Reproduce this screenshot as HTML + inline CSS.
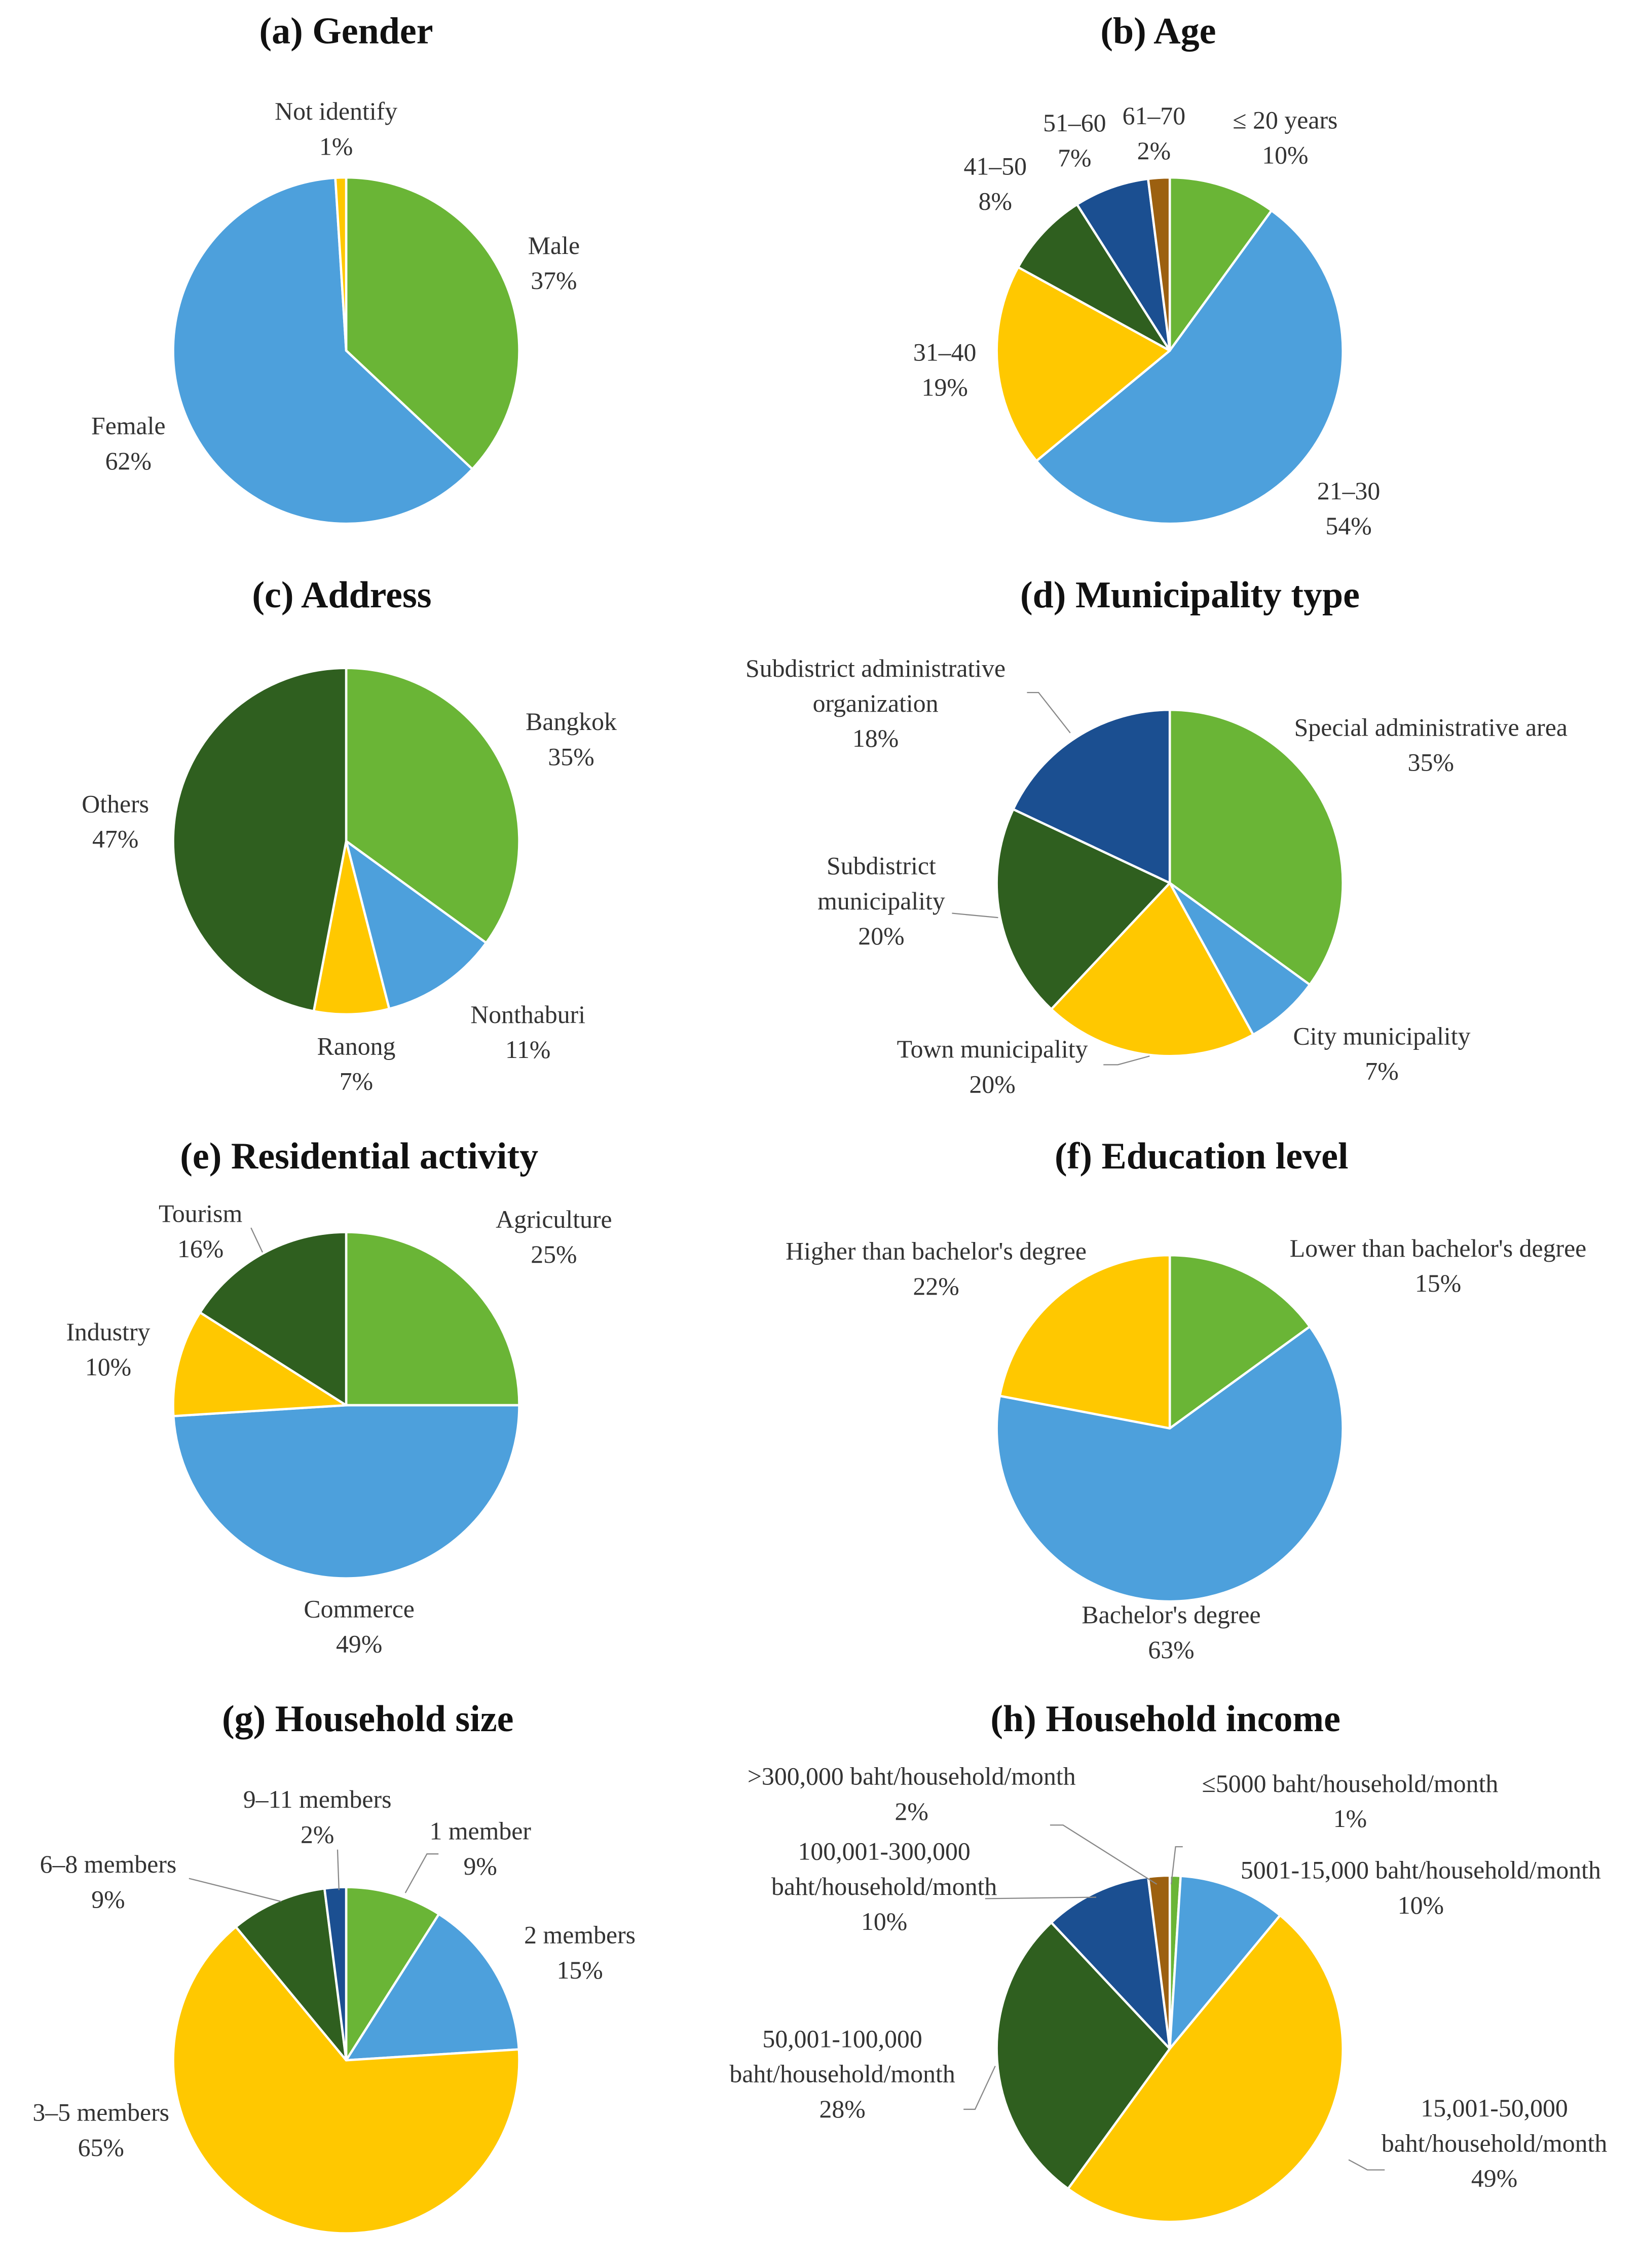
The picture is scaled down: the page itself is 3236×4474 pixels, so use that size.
<!DOCTYPE html>
<html><head><meta charset="utf-8">
<style>
html,body{margin:0;padding:0;background:#fff;}
svg{display:block;}
text{font-family:"Liberation Serif",serif;fill:#333;}
.t{font-weight:bold;fill:#111;font-size:26px;}
.l{font-size:17.5px;}
</style></head>
<body>
<svg id="fig" width="3236" height="4474" viewBox="0 0 1137 1572" preserveAspectRatio="none" xmlns="http://www.w3.org/2000/svg"></svg>
<script>
// ----- data -----
const genderCats = ["Male","Female","Not identify"];
const genderVals = [37,62,1];
const ageCats = ["≤ 20 years","21–30","31–40","41–50","51–60","61–70"];
const ageVals = [10,54,19,8,7,2];
const addressCats = ["Bangkok","Nonthaburi","Ranong","Others"];
const addressVals = [35,11,7,47];
const muniCats = ["Special administrative area","City municipality","Town municipality","Subdistrict municipality","Subdistrict administrative organization"];
const muniVals = [35,7,20,20,18];
const resCats = ["Agriculture","Commerce","Industry","Tourism"];
const resVals = [25,49,10,16];
const eduCats = ["Lower than bachelor's degree","Bachelor's degree","Higher than bachelor's degree"];
const eduVals = [15,63,22];
const hhCats = ["1 member","2 members","3–5 members","6–8 members","9–11 members"];
const hhVals = [9,15,65,9,2];
const incCats = ["≤5000 baht/household/month","5001-15,000 baht/household/month","15,001-50,000 baht/household/month","50,001-100,000 baht/household/month","100,001-300,000 baht/household/month",">300,000 baht/household/month"];
const incVals = [1,10,49,28,10,2];

const G="#6ab536",B="#4da0dc",Y="#ffc800",DG="#2f5f1f",N="#1b4f91",BR="#9c6010";
const svg=document.getElementById('fig');
const NS="http://www.w3.org/2000/svg";
function el(tag,attrs){const e=document.createElementNS(NS,tag);for(const k in attrs)e.setAttribute(k,attrs[k]);svg.appendChild(e);return e;}

function pie(id,cx,cy,r,vals,cats,colors){
  const tot=vals.reduce((a,b)=>a+b,0);
  let a0=0;
  vals.forEach((v,i)=>{
    const a1=a0+v/tot*2*Math.PI;
    const x0=cx+r*Math.sin(a0),y0=cy-r*Math.cos(a0);
    const x1=cx+r*Math.sin(a1),y1=cy-r*Math.cos(a1);
    const large=(a1-a0)>Math.PI?1:0;
    const p=el('path',{d:`M${cx},${cy} L${x0},${y0} A${r},${r} 0 ${large} 1 ${x1},${y1} Z`,fill:colors[i],stroke:"#fff","stroke-width":1.6,"stroke-linejoin":"round"});
    
    
    a0=a1;
  });
}
function title(txt,x,y,name){
  const t=el('text',{x:x,y:y,class:'t','text-anchor':'middle','dominant-baseline':'middle'});
  t.textContent=txt;
  
  
}
function label(lines,x,y,name){
  lines.forEach((s,i)=>{
    const t=el('text',{x:x,y:y+i*24.3,class:'l','text-anchor':'middle','dominant-baseline':'middle'});
    t.textContent=s;
    
    
  });
}
function lead(pts,name){
  const l=el('polyline',{points:pts,fill:'none',stroke:'#888','stroke-width':0.8});
  
  
}
const R=120;
// (a)
title("(a) Gender",240,24,'title-gender');
pie('gender',240,243,R,genderVals,genderCats,[G,B,Y]);
label(["Not identify",genderVals[2]+"%"],233,79,'label-not-identify');
label(["Male",genderVals[0]+"%"],384,172,'label-male');
label(["Female",genderVals[1]+"%"],89,297,'label-female');
// (b)
title("(b) Age",803,24,'title-age');
pie('age',811,243,R,ageVals,ageCats,[G,B,Y,DG,N,BR]);
label(["≤ 20 years",ageVals[0]+"%"],891,85,'label-age-20');
label(["61–70",ageVals[5]+"%"],800,82,'label-age-61-70');
label(["51–60",ageVals[4]+"%"],745,87,'label-age-51-60');
label(["41–50",ageVals[3]+"%"],690,117,'label-age-41-50');
label(["31–40",ageVals[2]+"%"],655,246,'label-age-31-40');
label(["21–30",ageVals[1]+"%"],935,342,'label-age-21-30');
// (c)
title("(c) Address",237,415,'title-address');
pie('address',240,583,R,addressVals,addressCats,[G,B,Y,DG]);
label(["Bangkok",addressVals[0]+"%"],396,502,'label-bangkok');
label(["Others",addressVals[3]+"%"],80,559,'label-others');
label(["Nonthaburi",addressVals[1]+"%"],366,705,'label-nonthaburi');
label(["Ranong",addressVals[2]+"%"],247,727,'label-ranong');
// (d)
title("(d) Municipality type",825,415,'title-municipality');
pie('municipality',811,612,R,muniVals,muniCats,[G,B,Y,DG,N]);
label(["Subdistrict administrative","organization",muniVals[4]+"%"],607,465,'label-sao');
lead("712,480 720,480 742,508",'leader-sao');
label(["Special administrative area",muniVals[0]+"%"],992,506,'label-special');
label(["Subdistrict","municipality",muniVals[3]+"%"],611,602,'label-subdistrict-municipality');
lead("660,633 692,636",'leader-subdistrict');
label(["City municipality",muniVals[1]+"%"],958,720,'label-city');
label(["Town municipality",muniVals[2]+"%"],688,729,'label-town');
lead("765,738 775,738 797,732",'leader-town');
// (e)
title("(e) Residential activity",249,804,'title-residential');
pie('residential',240,974,R,resVals,resCats,[G,B,Y,DG]);
label(["Agriculture",resVals[0]+"%"],384,847,'label-agriculture');
label(["Tourism",resVals[3]+"%"],139,843,'label-tourism');
lead("174,851 182,868",'leader-tourism');
label(["Industry",resVals[2]+"%"],75,925,'label-industry');
label(["Commerce",resVals[1]+"%"],249,1117,'label-commerce');
// (f)
title("(f) Education level",833,804,'title-education');
pie('education',811,990,R,eduVals,eduCats,[G,B,Y]);
label(["Lower than bachelor's degree",eduVals[0]+"%"],997,867,'label-lower');
label(["Higher than bachelor's degree",eduVals[2]+"%"],649,869,'label-higher');
label(["Bachelor's degree",eduVals[1]+"%"],812,1121,'label-bachelor');
// (g)
title("(g) Household size",255,1194,'title-household-size');
pie('household',240,1428,R,hhVals,hhCats,[G,B,Y,DG,N]);
label(["9–11 members",hhVals[4]+"%"],220,1249,'label-9-11');
lead("234,1282 235,1310",'leader-9-11');
label(["1 member",hhVals[0]+"%"],333,1271,'label-1-member');
lead("304,1285 296,1285 281,1312",'leader-1-member');
label(["6–8 members",hhVals[3]+"%"],75,1294,'label-6-8');
lead("131,1302 195,1318",'leader-6-8');
label(["2 members",hhVals[1]+"%"],402,1343,'label-2-members');
label(["3–5 members",hhVals[2]+"%"],70,1466,'label-3-5');
// (h)
title("(h) Household income",808,1194,'title-household-income');
pie('income',811,1420,R,incVals,incCats,[G,B,Y,DG,N,BR]);
label([">300,000 baht/household/month",incVals[5]+"%"],632,1233,'label-income-300k');
lead("728,1265 737,1265 802,1306",'leader-income-300k');
label(["≤5000 baht/household/month",incVals[0]+"%"],936,1238,'label-income-5000');
lead("820,1280 815,1280 812,1306",'leader-income-5000');
label(["100,001-300,000","baht/household/month",incVals[4]+"%"],613,1285,'label-income-100k');
lead("683,1316 760,1315",'leader-income-100k');
label(["5001-15,000 baht/household/month",incVals[1]+"%"],985,1298,'label-income-15k');
label(["50,001-100,000","baht/household/month",incVals[3]+"%"],584,1415,'label-income-50k');
lead("668,1462 676,1462 690,1432",'leader-income-50k');
label(["15,001-50,000","baht/household/month",incVals[2]+"%"],1036,1463,'label-income-50000');
lead("960,1504 948,1504 935,1497",'leader-income-50000');
</script>
</body></html>
